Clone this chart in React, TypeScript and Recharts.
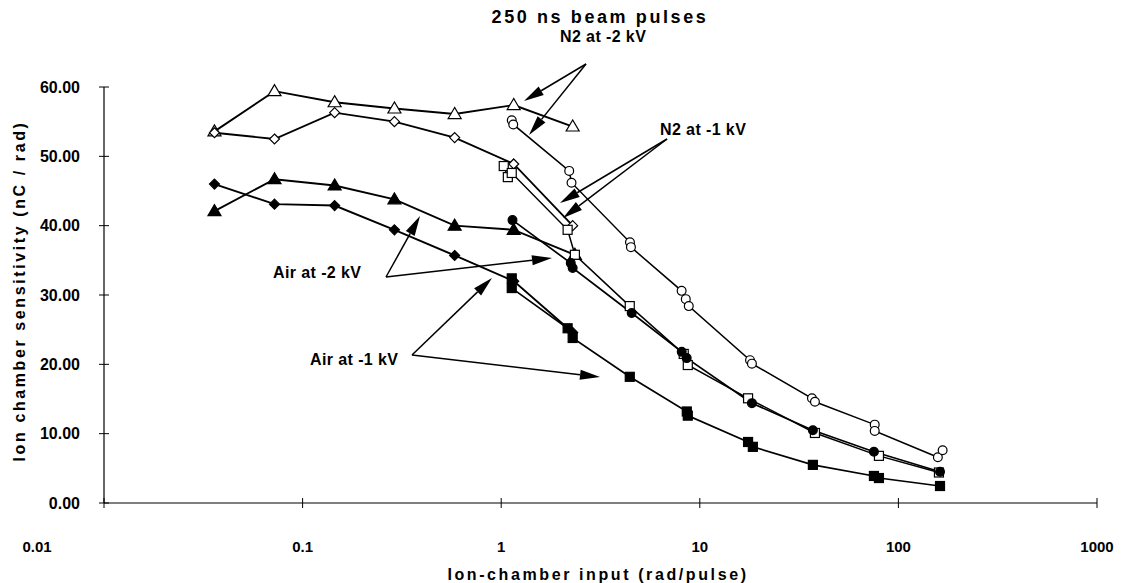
import React from "react";
import { LineChart, Line, XAxis, YAxis } from "recharts";

// low-dose runs (shared doses)
const lowDoseX = [0.036, 0.0722, 0.145, 0.29, 0.583, 1.156, 2.29];
const n2Minus2kVLow = [53.6, 59.4, 57.8, 56.9, 56.1, 57.4, 54.3];
const n2Minus1kVLow = [53.4, 52.5, 56.3, 55.0, 52.7, 48.9, 40.0];
const airMinus2kVLowX = [0.036, 0.0722, 0.145, 0.29, 0.583, 1.156, 2.35];
const airMinus2kVLow = [42.1, 46.7, 45.8, 43.8, 40.0, 39.4, 35.8];
const airMinus1kVLow = [46.0, 43.1, 42.9, 39.4, 35.7, 32.0, 24.6];

// high-dose runs
const n2Minus2kVHighX = [1.13, 1.15, 2.2, 2.26, 4.45, 4.5, 8.1, 8.5, 8.8, 17.9, 18.3, 36.7, 38.0, 76, 76, 158, 167];
const n2Minus2kVHigh = [55.2, 54.6, 47.9, 46.2, 37.6, 36.9, 30.6, 29.4, 28.4, 20.6, 20.1, 15.1, 14.6, 11.3, 10.4, 6.6, 7.6];
const n2Minus1kVHighX = [1.03, 1.08, 1.13, 2.16, 2.35, 4.44, 8.3, 8.7, 17.5, 38.0, 79.8, 160];
const n2Minus1kVHigh = [48.6, 47.0, 47.6, 39.4, 35.8, 28.4, 21.5, 19.9, 15.1, 10.1, 6.8, 4.4];
const airMinus2kVHighX = [1.14, 2.24, 2.29, 4.54, 8.11, 8.59, 18.3, 37.1, 75.3, 162];
const airMinus2kVHigh = [40.8, 34.6, 33.9, 27.4, 21.8, 20.9, 14.4, 10.5, 7.4, 4.5];
const airMinus1kVHighX = [1.13, 1.13, 2.16, 2.29, 4.44, 8.6, 8.7, 17.5, 18.5, 37.1, 75.3, 79.8, 162];
const airMinus1kVHigh = [32.4, 31.0, 25.2, 23.8, 18.2, 13.2, 12.6, 8.8, 8.1, 5.5, 3.9, 3.6, 2.45];

const xTicks = [0.01, 0.1, 1, 10, 100, 1000];
const xTickLabels = ["0.01", "0.1", "1", "10", "100", "1000"];
const yTicks = [0, 10, 20, 30, 40, 50, 60];

const FONT = "'Liberation Sans', Arial, Helvetica, sans-serif";

type Kind = "triangle" | "diamond" | "circle" | "square";

const toPoints = (xs: number[], ys: number[]) => xs.map((x, i) => ({ x, y: ys[i] }));

const series = [
  { name: "N2 -2 kV low", data: toPoints(lowDoseX, n2Minus2kVLow), kind: "triangle" as Kind, filled: false, width: 1.9 },
  { name: "N2 -1 kV low", data: toPoints(lowDoseX, n2Minus1kVLow), kind: "diamond" as Kind, filled: false, width: 1.9 },
  { name: "Air -2 kV low", data: toPoints(airMinus2kVLowX, airMinus2kVLow), kind: "triangle" as Kind, filled: true, width: 1.9 },
  { name: "Air -1 kV low", data: toPoints(lowDoseX, airMinus1kVLow), kind: "diamond" as Kind, filled: true, width: 1.9 },
  { name: "N2 -2 kV high", data: toPoints(n2Minus2kVHighX, n2Minus2kVHigh), kind: "circle" as Kind, filled: false, width: 1.5 },
  { name: "N2 -1 kV high", data: toPoints(n2Minus1kVHighX, n2Minus1kVHigh), kind: "square" as Kind, filled: false, width: 1.5 },
  { name: "Air -2 kV high", data: toPoints(airMinus2kVHighX, airMinus2kVHigh), kind: "circle" as Kind, filled: true, width: 1.7 },
  { name: "Air -1 kV high", data: toPoints(airMinus1kVHighX, airMinus1kVHigh), kind: "square" as Kind, filled: true, width: 1.7 },
];

function makeDot(kind: Kind, filled: boolean) {
  return (props: any) => {
    const { cx, cy, index } = props;
    if (cx == null || cy == null) return <g key={index} />;
    const fill = filled ? "#000" : "#fff";
    const common = { fill, stroke: "#000", strokeWidth: 1.2 };
    if (kind === "triangle") {
      return <polygon key={index} points={`${cx},${cy - 6.5} ${cx - 6.5},${cy + 4.5} ${cx + 6.5},${cy + 4.5}`} {...common} />;
    }
    if (kind === "diamond") {
      return <polygon key={index} points={`${cx},${cy - 5} ${cx + 5},${cy} ${cx},${cy + 5} ${cx - 5},${cy}`} {...common} />;
    }
    if (kind === "circle") {
      return <circle key={index} cx={cx} cy={cy} r={4.4} {...common} />;
    }
    return <rect key={index} x={cx - 4.5} y={cy - 4.5} width={9} height={9} {...common} />;
  };
}

const XTick = (props: any) => {
  const { x, y, payload } = props;
  const i = xTicks.indexOf(payload.value);
  const labelX = payload.value === 0.01 ? x - 67 : x;
  return (
    <g>
      <line x1={x} x2={x} y1={y - 5} y2={y + 5} stroke="#000" strokeWidth={1} />
      <text x={labelX} y={y + 49} textAnchor="middle" fontFamily={FONT} fontSize={15} fontWeight="bold" fill="#000">
        {xTickLabels[i]}
      </text>
    </g>
  );
};

const YTick = (props: any) => {
  const { x, y, payload } = props;
  return (
    <g>
      <line x1={x - 5} x2={x + 5} y1={y} y2={y} stroke="#000" strokeWidth={1} />
      <text x={x - 24} y={y} dy="0.36em" textAnchor="end" fontFamily={FONT} fontSize={16} fontWeight="bold" fill="#000">
        {payload.value.toFixed(2)}
      </text>
    </g>
  );
};

// annotation arrows, page coordinates
const notes = [
  { text: "N2 at -2 kV", tx: 560, ty: 42, from: [586, 64], tips: [[524, 101], [529, 135]] },
  { text: "N2 at -1 kV", tx: 660, ty: 135, from: [667, 139], tips: [[560, 203], [563, 218]] },
  { text: "Air at -2 kV", tx: 273, ty: 278, from: [386, 277], tips: [[420, 216], [552, 258]] },
  { text: "Air at -1 kV", tx: 310, ty: 365, from: [412, 355], tips: [[492, 278], [600, 377]] },
];

function Arrow({ x1, y1, x2, y2 }: { x1: number; y1: number; x2: number; y2: number }) {
  const dx = x2 - x1;
  const dy = y2 - y1;
  const len = Math.hypot(dx, dy);
  const ux = dx / len;
  const uy = dy / len;
  const head = 20;
  const half = 5;
  const bx = x2 - ux * head;
  const by = y2 - uy * head;
  return (
    <g>
      <line x1={x1} y1={y1} x2={bx} y2={by} stroke="#000" strokeWidth={1.5} />
      <polygon points={`${x2},${y2} ${bx - uy * half},${by + ux * half} ${bx + uy * half},${by - ux * half}`} fill="#000" />
    </g>
  );
}

export default function App() {
  const W = 1111;
  const H = 575;
  return (
    <div style={{ position: "relative", width: W, height: H, background: "#fff" }}>
      <LineChart width={W} height={H} margin={{ top: 79, right: 22, bottom: 0, left: 0 }}>
        <XAxis
          dataKey="x"
          type="number"
          scale="log"
          domain={[0.01, 1000]}
          ticks={xTicks}
          allowDataOverflow
          height={80}
          axisLine={{ stroke: "#000", strokeWidth: 1.2 }}
          tickLine={false}
          tickSize={0}
          tickMargin={0}
          tick={<XTick />}
          interval={0}
        />
        <YAxis
          type="number"
          domain={[0, 60]}
          ticks={yTicks}
          width={96}
          axisLine={{ stroke: "#000", strokeWidth: 1.2 }}
          tickLine={false}
          tickSize={0}
          tickMargin={0}
          tick={<YTick />}
          interval={0}
        />
        {series.map((s) => (
          <Line
            key={s.name}
            name={s.name}
            data={s.data}
            dataKey="y"
            type="linear"
            stroke="#000"
            strokeWidth={s.width}
            dot={makeDot(s.kind, s.filled)}
            activeDot={false}
            isAnimationActive={false}
          />
        ))}
      </LineChart>
      {/* overlay in page coordinates (wrapper sits at the 8px body margin) */}
      <svg width={1127} height={583} style={{ position: "absolute", left: -8, top: -8, pointerEvents: "none" }}>
        <g fontFamily={FONT} fill="#000">
          <text x={600} y={23} textAnchor="middle" fontSize={18} fontWeight="bold" letterSpacing={2.6}>
            250 ns beam pulses
          </text>
          <text
            transform="translate(25,291) rotate(-90)"
            textAnchor="middle"
            fontSize={16}
            fontWeight="bold"
            letterSpacing={2.6}
          >
            Ion chamber sensitivity (nC / rad)
          </text>
          <text x={598} y={580} textAnchor="middle" fontSize={16} fontWeight="bold" letterSpacing={2.6}>
            Ion-chamber input (rad/pulse)
          </text>
          {notes.map((n) => (
            <g key={n.text}>
              <text x={n.tx} y={n.ty} fontSize={16} fontWeight="bold" letterSpacing={0.4}>
                {n.text}
              </text>
              {n.tips.map((t, i) => (
                <Arrow key={i} x1={n.from[0]} y1={n.from[1]} x2={t[0]} y2={t[1]} />
              ))}
            </g>
          ))}
        </g>
      </svg>
    </div>
  );
}
